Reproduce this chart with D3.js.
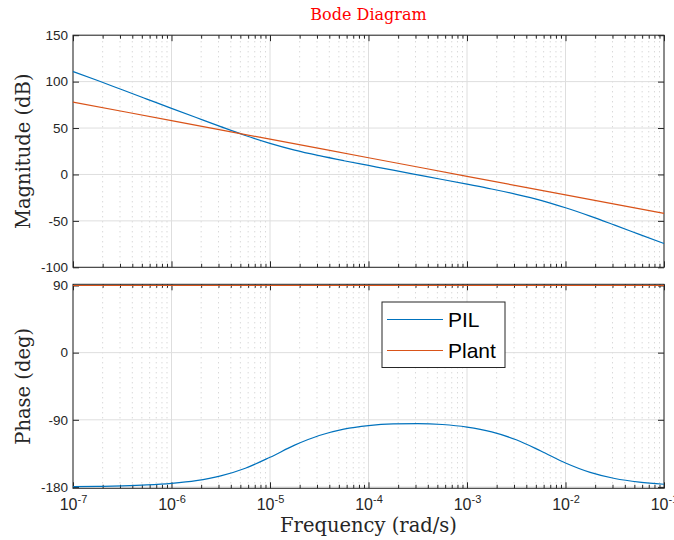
<!DOCTYPE html>
<html>
<head>
<meta charset="utf-8">
<script src="https://cdn.jsdelivr.net/npm/d3@7"></script>
<style>
  body { margin: 0; background: #fff; }
</style>
</head>
<body>
<div id="chart"></div>
<script>
// values
const freq = [1e-7, 1.78e-7, 3.16e-7, 5.62e-7, 1e-6, 1.78e-6, 3.16e-6, 5.62e-6,
  1e-5, 1.78e-5, 3.16e-5, 5.62e-5, 1e-4, 1.78e-4, 3.16e-4, 5.62e-4,
  1e-3, 1.78e-3, 3.16e-3, 5.62e-3, 1e-2, 1.78e-2, 3.16e-2, 5.62e-2, 1e-1]
const pilMag = [110.8, 101.2, 91.2, 81.2, 71.2, 61.3, 51.5, 42.0,
  33.5, 26.2, 20.2, 14.8, 9.7, 4.6, -0.4, -5.4,
  -10.5, -15.7, -21.4, -27.9, -35.9, -44.9, -54.6, -64.5, -74.4]
const pilPhase = [-179.5, -179.2, -178.5, -177.3, -175.2, -171.6, -165.2, -154.9,
  -140.2, -124.0, -111.1, -102.5, -97.7, -95.5, -95.1, -96.3,
  -99.7, -106.2, -116.8, -131.8, -147.9, -160.5, -168.7, -173.6, -176.4]
const plantFreq = [1e-7, 1e-6, 1e-5, 1e-4, 1e-3, 1e-2, 1e-1]
const plantMag = [78, 58, 38, 18, -2, -22, -42]
const plantPhase = [90, 90, 90, 90, 90, 90, 90]

const seriesNames = ['PIL', 'Plant']
const seriesColors = ['#0072BD', '#D95319']
const magTicks = [-100, -50, 0, 50, 100, 150]
const phaseTicks = [-180, -90, 0, 90]
const decades = [1e-7, 1e-6, 1e-5, 1e-4, 1e-3, 1e-2, 1e-1]

const width = 674
const height = 540
const left = 73
const right = 664
const axisColor = '#262626'
const sans = 'Liberation Sans, Arial, sans-serif'
const serif = 'DejaVu Serif, serif'

const svg = d3.select('#chart').append('svg')
  .attr('width', width)
  .attr('height', height)

svg.append('rect').attr('width', width).attr('height', height).attr('fill', '#fff')

const x = d3.scaleLog().domain([1e-7, 1e-1]).range([left, right])

// minor decade values 2..9 in each decade
const minors = []
decades.slice(0, -1).forEach(d => {
  for (let k = 2; k <= 9; k++) minors.push(d * k)
})

const magY = d3.scaleLinear().domain([-100, 150]).range([267.3, 35.2])
const phaseY = d3.scaleLinear().domain([-181.8, 91.6]).range([488.3, 284.3])

function drawPanel (y, ticks, showX) {
  const [y0, y1] = y.range()
  const g = svg.append('g')

  // grid: dotted minor, solid major
  g.selectAll('.minor-grid').data(minors).enter().append('line')
    .attr('x1', d => x(d)).attr('x2', d => x(d))
    .attr('y1', y0).attr('y2', y1)
    .attr('stroke', '#c8c8c8')
    .attr('stroke-width', 1)
    .attr('stroke-dasharray', '1,4')
  g.selectAll('.major-grid-x').data(decades).enter().append('line')
    .attr('x1', d => x(d)).attr('x2', d => x(d))
    .attr('y1', y0).attr('y2', y1)
    .attr('stroke', '#dedede')
  g.selectAll('.major-grid-y').data(ticks).enter().append('line')
    .attr('x1', left).attr('x2', right)
    .attr('y1', d => y(d)).attr('y2', d => y(d))
    .attr('stroke', '#dedede')

  // ticks pointing inward on all four sides
  const tickStyle = sel => {
    sel.select('.domain').remove()
    sel.selectAll('line').attr('stroke', axisColor)
    sel.selectAll('text').attr('fill', axisColor).style('font-family', sans).style('font-size', '13.5px')
  }
  g.append('g').attr('transform', `translate(${left},0)`)
    .call(d3.axisLeft(y).tickValues(ticks).tickSize(-6).tickPadding(5).tickFormat(d => String(d)))
    .call(tickStyle)
  g.append('g').attr('transform', `translate(${right},0)`)
    .call(d3.axisRight(y).tickValues(ticks).tickSize(-6).tickFormat(''))
    .call(tickStyle)
  g.append('g').attr('transform', `translate(0,${y1})`)
    .call(d3.axisTop(x).tickValues(decades).tickSize(-6).tickFormat(''))
    .call(tickStyle)
  g.append('g').attr('transform', `translate(0,${y1})`)
    .call(d3.axisTop(x).tickValues(minors).tickSize(-3.5).tickFormat(''))
    .call(tickStyle)
  g.append('g').attr('transform', `translate(0,${y0})`)
    .call(d3.axisBottom(x).tickValues(minors).tickSize(-3.5).tickFormat(''))
    .call(tickStyle)

  const bottom = g.append('g').attr('transform', `translate(0,${y0})`)
    .call(d3.axisBottom(x).tickValues(decades).tickSize(-6).tickPadding(10).tickFormat(''))
    .call(tickStyle)

  if (showX) {
    bottom.selectAll('.tick text')
      .style('font-size', '16px')
      .attr('dy', '0.71em')
      .each(function (d) {
        const t = d3.select(this)
        t.append('tspan').text('10')
        t.append('tspan')
          .attr('dy', -7)
          .style('font-size', '11px')
          .text(String(Math.round(Math.log10(d))))
      })
  }

  g.append('rect')
    .attr('x', left).attr('y', y1)
    .attr('width', right - left).attr('height', y0 - y1)
    .attr('fill', 'none')
    .attr('stroke', axisColor)
    .attr('stroke-width', 1)

  return g
}

function drawLine (g, y, xs, ys, color) {
  const line = d3.line()
    .x((d, i) => x(xs[i]))
    .y(d => y(d))
    .curve(d3.curveMonotoneX)
  g.append('path')
    .datum(ys)
    .attr('d', line)
    .attr('fill', 'none')
    .attr('stroke', color)
    .attr('stroke-width', 1.2)
}

const magPanel = drawPanel(magY, magTicks, false)
drawLine(magPanel, magY, freq, pilMag, seriesColors[0])
drawLine(magPanel, magY, plantFreq, plantMag, seriesColors[1])

const phasePanel = drawPanel(phaseY, phaseTicks, true)
drawLine(phasePanel, phaseY, freq, pilPhase, seriesColors[0])
drawLine(phasePanel, phaseY, plantFreq, plantPhase, seriesColors[1])

// title and axis labels
svg.append('text')
  .attr('x', (left + right) / 2).attr('y', 20)
  .attr('text-anchor', 'middle')
  .style('font-family', serif).style('font-size', '16px')
  .attr('fill', '#ff0000')
  .text('Bode Diagram')

svg.append('text')
  .attr('transform', `translate(30,${(magY.range()[0] + magY.range()[1]) / 2}) rotate(-90)`)
  .attr('text-anchor', 'middle')
  .style('font-family', serif).style('font-size', '19.5px')
  .attr('fill', axisColor)
  .text('Magnitude (dB)')

svg.append('text')
  .attr('transform', `translate(30,${(phaseY.range()[0] + phaseY.range()[1]) / 2}) rotate(-90)`)
  .attr('text-anchor', 'middle')
  .style('font-family', serif).style('font-size', '19.5px')
  .attr('fill', axisColor)
  .text('Phase (deg)')

svg.append('text')
  .attr('x', (left + right) / 2).attr('y', 532)
  .attr('text-anchor', 'middle')
  .style('font-family', serif).style('font-size', '19.5px')
  .attr('fill', axisColor)
  .text('Frequency (rad/s)')

// legend
const legend = svg.append('g').attr('transform', 'translate(382,302)')
legend.append('rect')
  .attr('width', 123).attr('height', 65.5)
  .attr('fill', '#fff')
  .attr('stroke', axisColor)
seriesNames.forEach((name, i) => {
  const ly = 17.5 + i * 31
  legend.append('line')
    .attr('x1', 5).attr('x2', 61)
    .attr('y1', ly).attr('y2', ly)
    .attr('stroke', seriesColors[i])
    .attr('stroke-width', 1.2)
  legend.append('text')
    .attr('x', 66).attr('y', ly + 7.5)
    .style('font-family', sans).style('font-size', '21px')
    .attr('fill', '#000')
    .text(name)
})
</script>
</body>
</html>
